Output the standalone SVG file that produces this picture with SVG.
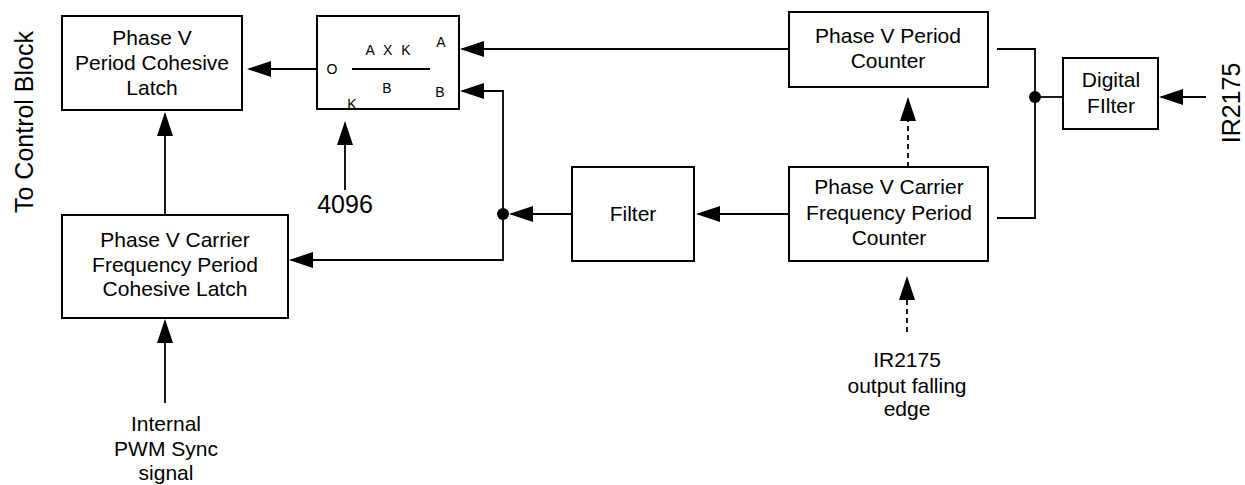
<svg xmlns="http://www.w3.org/2000/svg" width="1245" height="485" viewBox="0 0 1245 485">
<defs>
<marker id="ah" markerUnits="userSpaceOnUse" markerWidth="24" markerHeight="16" refX="22" refY="8" orient="auto">
<path d="M0,0 L24,8 L0,16 z" fill="#000"/>
</marker>
<style>
.box{fill:#fff;stroke:#000;stroke-width:2}
.t{font-family:"Liberation Sans",Arial,sans-serif;font-size:21px;fill:#000;text-anchor:middle}
.s{font-family:"Liberation Sans",Arial,sans-serif;font-size:14px;fill:#000;text-anchor:middle}
.big{font-family:"Liberation Sans",Arial,sans-serif;font-size:25px;fill:#000;text-anchor:middle}
.c{fill:none;stroke:#000;stroke-width:1.8}
.a{marker-end:url(#ah)}
.d{stroke-dasharray:5,4}
</style>
</defs>
<rect width="1245" height="485" fill="#fff"/>
<g id="connectors">
<path class="c a" d="M317,69 H249"/>
<path class="c a" d="M789,49 H462"/>
<path class="c a" d="M503,214 V91 H462"/>
<path class="c a" d="M577,214 H511"/>
<path class="c a" d="M789,214 H698"/>
<path class="c a" d="M503,214 V260 H291"/>
<path class="c a" d="M165,215 V114"/>
<path class="c a" d="M345,190 V123"/>
<path class="c a" d="M165,403 V321"/>
<path class="c a d" d="M908,167 V99"/>
<path class="c a d" d="M907,332 V278"/>
<path class="c" d="M997,49 H1035 V218 H997"/>
<path class="c" d="M1035,97 H1063"/>
<path class="c a" d="M1206,97 H1161"/>
<circle cx="503" cy="214" r="6" fill="#000"/>
<circle cx="1035" cy="97" r="6" fill="#000"/>
</g>
<g id="period-latch">
<rect class="box" x="62" y="16" width="180" height="94"/>
<text class="t" x="152" y="45">Phase V</text>
<text class="t" x="152" y="70">Period Cohesive</text>
<text class="t" x="152" y="95">Latch</text>
</g>
<g id="multiplier">
<rect class="box" x="317" y="16" width="142" height="93"/>
<line x1="352" y1="69" x2="430" y2="69" stroke="#000" stroke-width="1.8"/>
<text class="s" x="332" y="74">O</text>
<text class="s" x="388" y="55" word-spacing="5">A X K</text>
<text class="s" x="387" y="93">B</text>
<text class="s" x="441" y="47">A</text>
<text class="s" x="440" y="97">B</text>
<text class="s" x="352" y="109">K</text>
</g>
<g id="period-counter">
<rect class="box" x="789" y="12" width="199" height="75"/>
<text class="t" x="888" y="43">Phase V Period</text>
<text class="t" x="888" y="68">Counter</text>
</g>
<g id="carrier-counter">
<rect class="box" x="789" y="167" width="199" height="94"/>
<text class="t" x="889" y="194">Phase V Carrier</text>
<text class="t" x="889" y="220">Frequency Period</text>
<text class="t" x="889" y="245">Counter</text>
</g>
<g id="filter">
<rect class="box" x="572" y="167" width="122" height="94"/>
<text class="t" x="633" y="221">Filter</text>
</g>
<g id="digital-filter">
<rect class="box" x="1063" y="58" width="95" height="71"/>
<text class="t" x="1111" y="87">Digital</text>
<text class="t" x="1111" y="113">FIlter</text>
</g>
<g id="carrier-latch">
<rect class="box" x="62" y="215" width="226" height="103"/>
<text class="t" x="175" y="247">Phase V Carrier</text>
<text class="t" x="175" y="272">Frequency Period</text>
<text class="t" x="175" y="296">Cohesive Latch</text>
</g>
<g id="label-control">
<text class="big" transform="translate(33,122) rotate(-90)">To Control Block</text>
</g>
<g id="label-ir2175-in">
<text class="big" transform="translate(1240,103) rotate(-90)">IR2175</text>
</g>
<g id="label-4096">
<text class="big" x="345" y="213">4096</text>
</g>
<g id="label-falling">
<text class="t" x="907" y="367">IR2175</text>
<text class="t" x="907" y="393">output falling</text>
<text class="t" x="907" y="416">edge</text>
</g>
<g id="label-pwm">
<text class="t" x="166" y="431">Internal</text>
<text class="t" x="166" y="456">PWM Sync</text>
<text class="t" x="166" y="480">signal</text>
</g>
</svg>
